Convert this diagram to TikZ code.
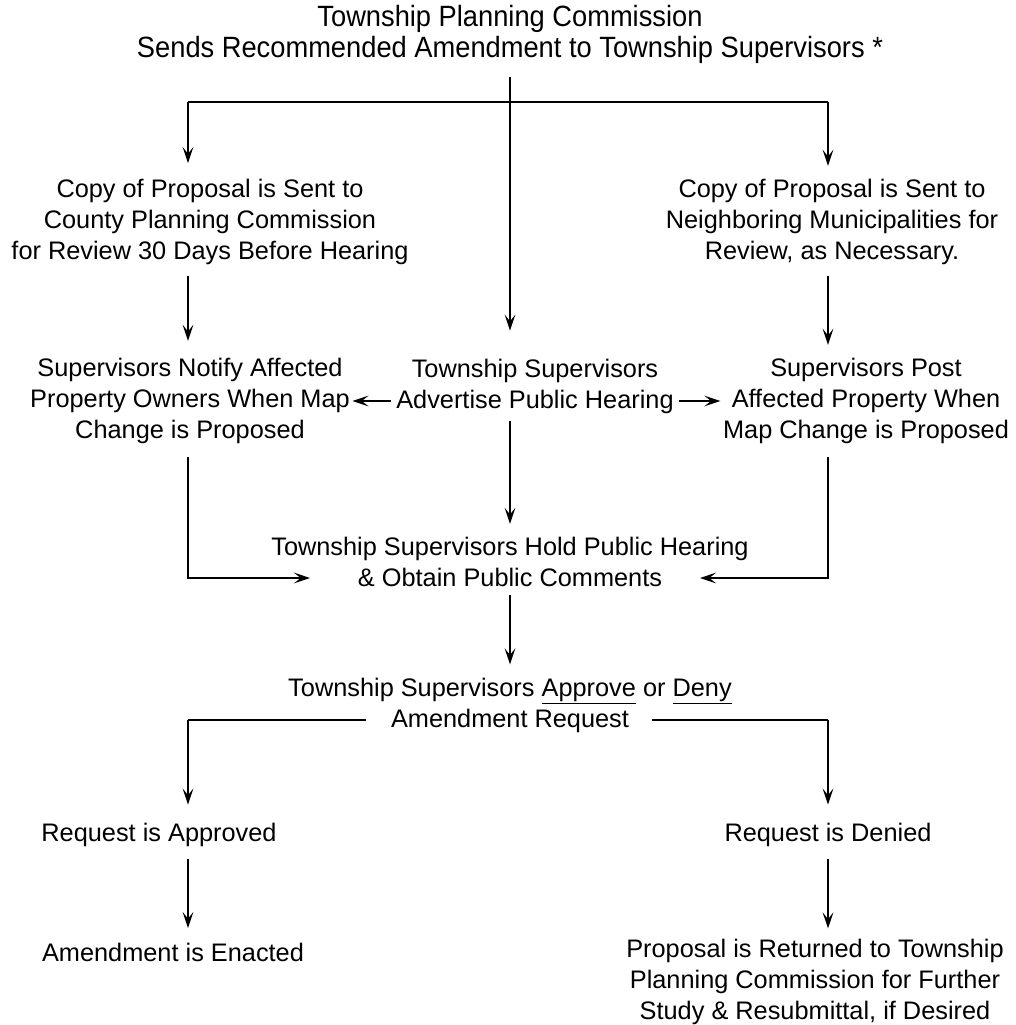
\documentclass[tikz,border=0pt]{standalone}
\usepackage{fontspec}
\setmainfont{Liberation Sans}
\newfontfamily\titlefont[FakeStretch=0.93]{Liberation Sans}
\usetikzlibrary{arrows.meta}
\begin{document}
\begin{tikzpicture}[x=0.75pt,y=-0.75pt,
  txt/.style={align=center,inner sep=0pt,outer sep=0pt,font=\fontsize{19}{23.3}\selectfont},
  ttl/.style={align=center,inner sep=0pt,outer sep=0pt,font=\titlefont\fontsize{22}{23.3}\selectfont},
  ln/.style={line width=1.5pt},
  arr/.style={ln,-{Stealth[length=12pt,width=8pt,inset=5pt]}}]
\useasboundingbox (0,0) rectangle (1016,1025);
\node[ttl] (title) at (510,34) {Township Planning Commission\\Sends Recommended Amendment to Township Supervisors *};
\node[txt] (copyL) at (210,222) {Copy of Proposal is Sent to\\County Planning Commission\\for Review 30 Days Before Hearing};
\node[txt] (copyR) at (832,222) {Copy of Proposal is Sent to\\Neighboring Municipalities for\\Review, as Necessary.};
\node[txt] (notify) at (190,401) {Supervisors Notify Affected\\Property Owners When Map\\Change is Proposed};
\node[txt] (adv) at (535,386) {Township Supervisors\\Advertise Public Hearing};
\node[txt] (post) at (866,401) {Supervisors Post\\Affected Property When\\Map Change is Proposed};
\node[txt] (hold) at (510,562) {Township Supervisors Hold Public Hearing\\\& Obtain Public Comments};
\node[txt] (appr) at (510,705) {Township Supervisors \underline{Approve} or \underline{Deny}\\Amendment Request};
\node[txt] (yes) at (159,835) {Request is Approved};
\node[txt] (no) at (828,835) {Request is Denied};
\node[txt] (enact) at (173,952) {Amendment is Enacted};
\node[txt] (ret) at (815,982) {Proposal is Returned to Township\\Planning Commission for Further\\Study \& Resubmittal, if Desired};
% junctions
\coordinate (jm) at (510,102);
\coordinate (jl) at (188,102);
\coordinate (jr) at (828,102);
\coordinate (hl) at (310,578);
\coordinate (hr) at (700,578);
\coordinate (al) at (188,720);
\coordinate (alm) at (366,720);
\coordinate (arm) at (652,720);
\coordinate (ar) at (828,720);
% top
\draw[arr,shorten <=10pt,shorten >=21pt] (title.south) -- (title.south |- adv.north);
\draw[ln] (jl) -- (jr);
\draw[arr,shorten >=12pt] (jl) -- (jl |- copyL.north);
\draw[arr,shorten >=10pt] (jr) -- (jr |- copyR.north);
\draw[arr,shorten <=8pt,shorten >=13pt] (jl |- copyL.south) -- (jl |- notify.north);
\draw[arr,shorten <=8pt,shorten >=10pt] (jr |- copyR.south) -- (jr |- post.north);
% side arrows
\draw[arr,shorten <=4pt,shorten >=2pt] (adv.west |- notify.east) -- (notify.east);
\draw[arr,shorten <=4pt,shorten >=2pt] (adv.east |- post.west) -- (post.west);
% to hold
\draw[arr,shorten <=6pt,shorten >=10pt] (jm |- adv.south) -- (jm |- hold.north);
\draw[arr,shorten <=10pt] (jl |- notify.south) |- (hl);
\draw[arr,shorten <=10pt] (jr |- post.south) |- (hr);
% to approve
\draw[arr,shorten <=6pt,shorten >=10pt] (jm |- hold.south) -- (jm |- appr.north);
\draw[ln] (alm) -- (al);
\draw[ln] (arm) -- (ar);
\draw[arr,shorten >=14pt] (al) -- (al |- yes.north);
\draw[arr,shorten >=14pt] (ar) -- (ar |- no.north);
\draw[arr,shorten <=9pt,shorten >=11pt] (al |- yes.south) -- (al |- enact.north);
\draw[arr,shorten <=9pt,shorten >=8pt] (ar |- no.south) -- (ar |- ret.north);
\end{tikzpicture}
\end{document}
